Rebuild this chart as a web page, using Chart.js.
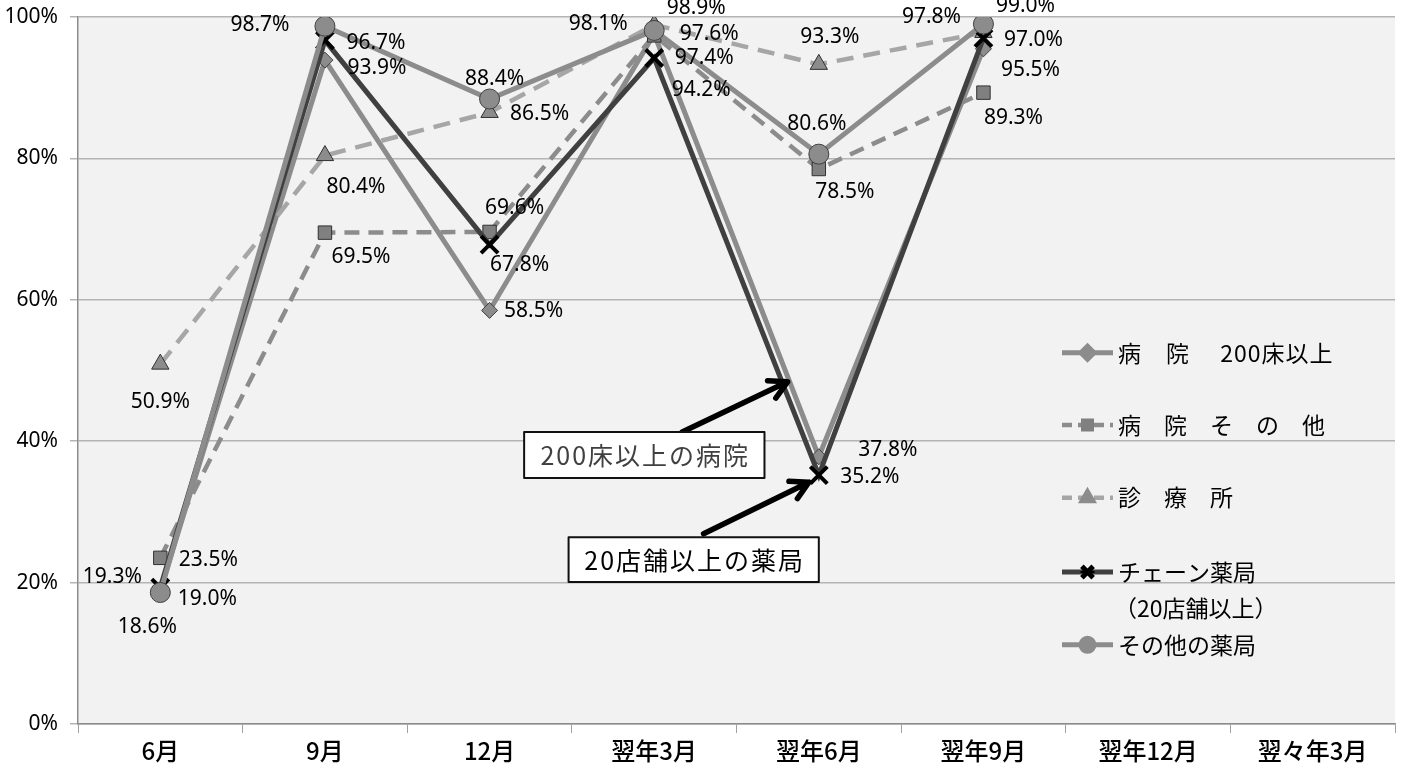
<!DOCTYPE html>
<html lang="ja">
<head>
<meta charset="utf-8">
<script src="https://cdn.jsdelivr.net/npm/chart.js@4.4.1/dist/chart.umd.min.js"></script>
<style>
html,body{margin:0;padding:0;background:#fff;}
#wrap{width:1411px;height:771px;}
</style>
</head>
<body>
<div id="wrap"><canvas id="c" width="1411" height="771"></canvas></div>
<script>
// ---- data ----
const categories = ['6月','9月','12月','翌年3月','翌年6月','翌年9月','翌年12月','翌々年3月'];
const hospital200 = [19.0, 93.9, 58.5, 97.6, 37.8, 95.5];
const hospitalOther = [23.5, 69.5, 69.6, 97.4, 78.5, 89.3];
const clinic = [50.9, 80.4, 86.5, 98.9, 93.3, 97.8];
const chainPharmacy = [19.3, 96.7, 67.8, 94.2, 35.2, 97.0];
const otherPharmacy = [18.6, 98.7, 88.4, 98.1, 80.6, 99.0];
const yTickValues = [0, 20, 40, 60, 80, 100];
const seriesNames = ['病　院　 200床以上', '病　院　そ　の　他', '診　療　所', 'チェーン薬局', 'その他の薬局'];
const legendSubLine = '（20店舗以上）';
const note1 = '200床以上の病院';
const note2 = '20店舗以上の薬局';

// ---- label placement (pixel offsets from each point) ----
const labelOffsets = [
  [[47,9],[52,8],[44,1],[55,0],[69,-7],[47,21]],
  [[48,2],[36,24],[25,-24],[50,23],[26,23],[30,25]],
  [[0,38],[31,31],[50,2],[42,-17],[11,-27],[-52,-16]],
  [[-48,-11],[51,3],[30,20],[47,32],[51,2],[50,2]],
  [[-13,35],[-65,-1],[5,-20],[-56,-6],[-2,-30],[42,-18]]
];

const fmt = v => v.toFixed(1) + '%';

const datasets = [
  {label: seriesNames[0], data: hospital200, borderColor:'#8c8c8c', borderWidth:5, borderDash:[],
   pointStyle:'rectRot', pointRadius:8, pointBackgroundColor:'#8c8c8c', pointBorderColor:'#404040', pointBorderWidth:1, order:5},
  {label: seriesNames[1], data: hospitalOther, borderColor:'#8c8c8c', borderWidth:4.5, borderDash:[15,9],
   pointStyle:'rect', pointRadius:9.5, pointBackgroundColor:'#808080', pointBorderColor:'#303030', pointBorderWidth:1, order:4},
  {label: seriesNames[2], data: clinic, borderColor:'#a6a6a6', borderWidth:4.5, borderDash:[17,10],
   pointStyle:'triangle', pointRadius:10, pointBackgroundColor:'#8c8c8c', pointBorderColor:'#303030', pointBorderWidth:1, order:3},
  {label: seriesNames[3], data: chainPharmacy, borderColor:'#404040', borderWidth:5, borderDash:[],
   pointStyle:'crossRot', pointRadius:12, pointBackgroundColor:'#000', pointBorderColor:'#000', pointBorderWidth:4, order:2},
  {label: seriesNames[4], data: otherPharmacy, borderColor:'#8c8c8c', borderWidth:5, borderDash:[],
   pointStyle:'circle', pointRadius:10, pointBackgroundColor:'#8c8c8c', pointBorderColor:'#404040', pointBorderWidth:1, order:1}
];
datasets.forEach(d => { d.tension = 0; d.fill = false; d.pointHoverRadius = d.pointRadius; });

const bgPlugin = {
  id:'bg',
  beforeDraw(chart){
    const {ctx, chartArea:a} = chart;
    ctx.save();
    ctx.fillStyle = '#fff';
    ctx.fillRect(0,0,chart.width,chart.height);
    ctx.fillStyle = '#f2f2f2';
    ctx.fillRect(a.left, a.top, a.right-a.left, a.bottom-a.top);
    ctx.restore();
  }
};

const labelPlugin = {
  id:'vlabels',
  afterDatasetsDraw(chart){
    const ctx = chart.ctx;
    ctx.save();
    ctx.font = '21px "Noto Sans", sans-serif';
    ctx.fillStyle = '#000';
    ctx.textAlign = 'center';
    ctx.textBaseline = 'middle';
    chart.data.datasets.forEach((ds, di) => {
      const meta = chart.getDatasetMeta(di);
      meta.data.forEach((el, i) => {
        const v = ds.data[i];
        if (v == null) return;
        const off = labelOffsets[di][i];
        ctx.fillText(fmt(v), el.x + off[0], el.y + off[1]);
      });
    });
    ctx.restore();
  }
};

function arrow(ctx, x1, y1, x2, y2){
  const ang = Math.atan2(y2-y1, x2-x1);
  const h = 20;
  ctx.beginPath();
  ctx.moveTo(x1,y1); ctx.lineTo(x2,y2);
  ctx.moveTo(x2 - h*Math.cos(ang-0.5), y2 - h*Math.sin(ang-0.5));
  ctx.lineTo(x2,y2);
  ctx.lineTo(x2 - h*Math.cos(ang+0.5), y2 - h*Math.sin(ang+0.5));
  ctx.stroke();
}

// annotation geometry in data coordinates (category index, percent)
const notes = [
  {text: note1, color:'#404040', box:[2.21, 41.3, 3.67, 34.8], arrow:[3.17, 41.3, 3.81, 48.4]},
  {text: note2, color:'#000', box:[2.48, 26.4, 4.0, 20.1], arrow:[3.30, 26.9, 3.94, 34.2]}
];

const notePlugin = {
  id:'notes',
  afterDraw(chart){
    const ctx = chart.ctx, xs = chart.scales.x, ys = chart.scales.y;
    ctx.save();
    notes.forEach(n => {
      ctx.strokeStyle = '#000';
      ctx.lineWidth = 5.5;
      ctx.lineCap = 'round';
      ctx.lineJoin = 'round';
      arrow(ctx, xs.getPixelForValue(n.arrow[0]), ys.getPixelForValue(n.arrow[1]),
                 xs.getPixelForValue(n.arrow[2]), ys.getPixelForValue(n.arrow[3]));
      const l = xs.getPixelForValue(n.box[0]), t = ys.getPixelForValue(n.box[1]);
      const r = xs.getPixelForValue(n.box[2]), b = ys.getPixelForValue(n.box[3]);
      ctx.fillStyle = '#fff';
      ctx.fillRect(l, t, r-l, b-t);
      ctx.lineWidth = 2;
      ctx.lineCap = 'butt';
      ctx.strokeStyle = '#111';
      ctx.strokeRect(l, t, r-l, b-t);
      ctx.fillStyle = n.color;
      ctx.font = '25px "Noto Sans CJK JP", sans-serif';
      ctx.letterSpacing = '2px';
      ctx.textAlign = 'center';
      ctx.textBaseline = 'middle';
      ctx.fillText(n.text, (l+r)/2 + 1, (t+b)/2 + 1);
      ctx.letterSpacing = '0px';
    });
    ctx.restore();
  }
};

const legendRowsPct = [52.5, 42.3, 32.0, 21.5, 11.2];
const legendPlugin = {
  id:'customLegend',
  afterDraw(chart){
    const ctx = chart.ctx, ys = chart.scales.y, a = chart.chartArea;
    const x0 = a.left + 984, x1 = a.left + 1035, tx = a.left + 1040;
    ctx.save();
    chart.data.datasets.forEach((ds, i) => {
      const y = ys.getPixelForValue(legendRowsPct[i]);
      ctx.strokeStyle = ds.borderColor;
      ctx.lineWidth = ds.borderWidth;
      ctx.setLineDash(ds.borderDash.length ? [10,6] : []);
      ctx.beginPath(); ctx.moveTo(x0, y); ctx.lineTo(x1, y); ctx.stroke();
      ctx.setLineDash([]);
      const mx = (x0+x1)/2;
      if (ds.pointStyle === 'crossRot') {
        ctx.strokeStyle = '#000'; ctx.fillStyle = '#000';
        Chart.helpers.drawPoint(ctx, {pointStyle:'crossRot', radius:8, borderWidth:2, rotation:0}, mx, y);
        ctx.lineWidth = 2;
        ctx.beginPath(); ctx.moveTo(mx-7, y); ctx.lineTo(mx+7, y); ctx.stroke();
      } else {
        ctx.fillStyle = ds.pointBackgroundColor; ctx.strokeStyle = ds.pointBackgroundColor;
        Chart.helpers.drawPoint(ctx, {pointStyle:ds.pointStyle, radius:ds.pointStyle==='rect'?6:6.5, borderWidth:0.5, rotation:0}, mx, y);
      }
      ctx.fillStyle = '#000';
      ctx.font = '23px "Noto Sans CJK JP", sans-serif';
      ctx.textAlign = 'left';
      ctx.textBaseline = 'middle';
      ctx.letterSpacing = i === 0 ? '1px' : '0px';
      ctx.fillText(ds.label, tx, y);
      ctx.letterSpacing = '0px';
      if (i === 3) ctx.fillText(legendSubLine, tx - 4, y + 36);
    });
    ctx.restore();
  }
};

new Chart(document.getElementById('c'), {
  type:'line',
  data:{labels:categories, datasets},
  options:{
    responsive:false,
    animation:false,
    devicePixelRatio:1,
    layout:{padding:{top:17, right:7, left:0, bottom:0}},
    plugins:{legend:{display:false}, tooltip:{enabled:false}},
    scales:{
      x:{
        offset:true,
        grid:{offset:true, drawOnChartArea:false, drawTicks:true, tickLength:9, color:'#a0a0a0'},
        border:{color:'#8c8c8c', width:1.5},
        ticks:{color:'#000', font:{family:'"Noto Sans CJK JP", sans-serif', size:24, weight:'500'}, padding:3, maxRotation:0, autoSkip:false},
        afterFit(s){ s.height = 47; }
      },
      y:{
        min:0, max:100,
        afterBuildTicks(s){ s.ticks = yTickValues.map(v => ({value:v})); },
        grid:{color:'#b4b4b4', lineWidth:1.5, tickLength:8, drawTicks:true},
        border:{color:'#8c8c8c', width:1.5},
        ticks:{color:'#000', font:{family:'"Noto Sans", sans-serif', size:21, lineHeight:0.4}, padding:12, callback:v => v + '%'},
        afterFit(s){ s.width = 78; }
      }
    }
  },
  plugins:[bgPlugin, labelPlugin, notePlugin, legendPlugin]
});
</script>
</body>
</html>
